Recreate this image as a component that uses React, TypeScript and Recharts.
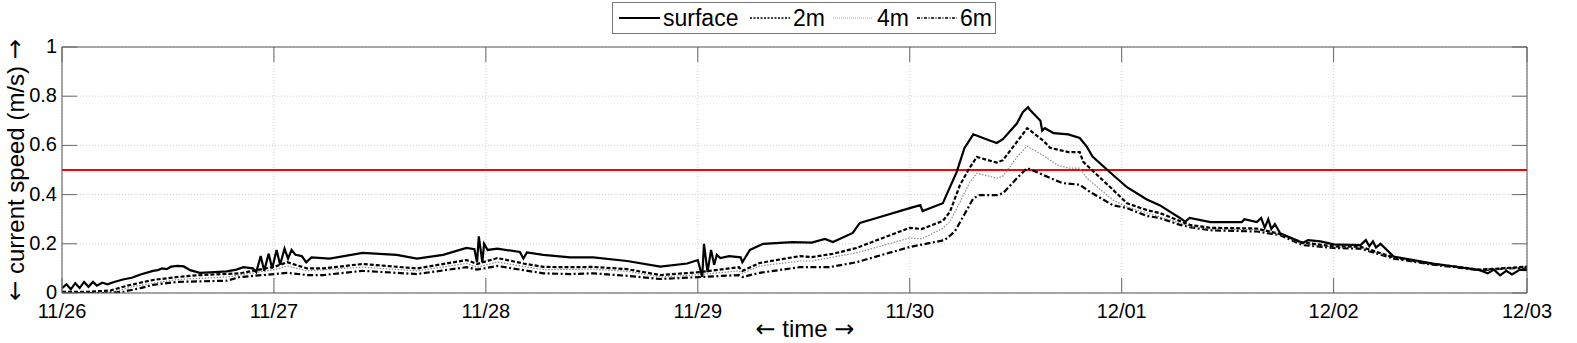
import React from 'react';
import { LineChart, Line, XAxis, YAxis, CartesianGrid, ReferenceLine } from 'recharts';

const xTickHours = [0, 24, 48, 72, 96, 120, 144, 165.9];
const xTickLabels = ['11/26', '11/27', '11/28', '11/29', '11/30', '12/01', '12/02', '12/03'];
const xDomainEnd = 165.9;
const yTicks = [0, 0.2, 0.4, 0.6, 0.8, 1];
const yTickLabels = ['0', '0.2', '0.4', '0.6', '0.8', '1'];
const thresholdSpeed = 0.5;

const surfaceHours = [0, 0.5, 1, 1.5, 2, 2.5, 3, 3.5, 3.95, 4.55, 5.15, 5.9, 6.9, 7.9, 8.9, 10.3, 10.85, 11.35, 11.85, 12.35, 13.05, 13.8, 14.5, 15.6, 17.3, 18.65, 19.75, 20.55, 21.6, 22.0, 22.5, 22.9, 23.4, 23.8, 24.3, 24.7, 25.2, 25.6, 26.0, 26.45, 27.15, 27.65, 28.25, 30.3, 34.05, 37.9, 40.2, 43.15, 45.8, 46.7, 47.0, 47.2, 47.6, 47.8, 48.2, 49.3, 51.85, 52.25, 52.65, 54.5, 57.55, 60.15, 64.0, 67.75, 70.8, 72.0, 72.5, 72.7, 73.1, 73.5, 73.85, 74.15, 74.55, 75.55, 76.85, 77.05, 77.9, 79.4, 82.75, 84.9, 86.4, 87.3, 89.55, 90.35, 92.25, 96.0, 97.2, 97.45, 99.75, 100.25, 101.3, 102.2, 103.2, 105.05, 105.85, 106.55, 108.15, 108.8, 109.4, 109.6, 110.8, 111.0, 111.3, 112.3, 113.95, 115.25, 116.05, 116.7, 118.7, 120.6, 122.85, 124.3, 126.6, 127.2, 127.7, 130.05, 133.6, 133.9, 135.3, 135.8, 136.2, 136.6, 136.95, 137.35, 137.95, 140.5, 141.1, 142.5, 144.0, 147.05, 147.65, 148.05, 148.45, 148.8, 149.3, 150.8, 155.25, 160.55, 161.45, 162.15, 162.85, 163.55, 164.2, 165.1, 165.9];
const surfaceSpeed = [0.02, 0.035, 0.015, 0.04, 0.02, 0.045, 0.025, 0.045, 0.03, 0.042, 0.035, 0.045, 0.055, 0.062, 0.075, 0.09, 0.093, 0.1, 0.097, 0.107, 0.11, 0.108, 0.093, 0.082, 0.085, 0.088, 0.095, 0.105, 0.1, 0.085, 0.15, 0.09, 0.16, 0.1, 0.175, 0.115, 0.18, 0.14, 0.175, 0.155, 0.15, 0.125, 0.145, 0.14, 0.163, 0.155, 0.14, 0.155, 0.183, 0.178, 0.125, 0.23, 0.125, 0.2, 0.175, 0.18, 0.167, 0.14, 0.165, 0.155, 0.145, 0.145, 0.13, 0.107, 0.12, 0.134, 0.065, 0.2, 0.085, 0.175, 0.115, 0.155, 0.142, 0.15, 0.145, 0.125, 0.175, 0.2, 0.207, 0.205, 0.22, 0.207, 0.244, 0.285, 0.305, 0.345, 0.357, 0.333, 0.365, 0.406, 0.49, 0.59, 0.645, 0.62, 0.61, 0.625, 0.69, 0.735, 0.755, 0.745, 0.7, 0.66, 0.67, 0.65, 0.645, 0.63, 0.595, 0.555, 0.49, 0.43, 0.38, 0.357, 0.305, 0.29, 0.305, 0.288, 0.288, 0.3, 0.288, 0.305, 0.265, 0.3, 0.26, 0.28, 0.243, 0.203, 0.215, 0.21, 0.198, 0.195, 0.215, 0.19, 0.21, 0.185, 0.2, 0.148, 0.12, 0.093, 0.08, 0.095, 0.072, 0.09, 0.075, 0.095, 0.093];

const depth2Hours = [0, 2.95, 5.45, 7.4, 10.3, 13.05, 15.3, 20.15, 24.1, 25.5, 27.75, 29.6, 34.05, 40.2, 45.8, 47.0, 49.3, 52.25, 54.5, 57.55, 60.15, 64.0, 67.75, 72.3, 76.65, 77.05, 79.0, 83.55, 84.9, 87.4, 89.95, 96.0, 97.35, 99.75, 100.55, 101.7, 102.8, 103.6, 105.85, 106.55, 108.15, 109.3, 111.1, 111.9, 113.95, 115.25, 115.65, 119.0, 120.6, 122.85, 124.3, 126.6, 127.7, 130.05, 135.3, 137.95, 140.5, 144.0, 147.05, 150.8, 155.25, 160.55, 162.95, 165.9];
const depth2Speed = [0.005, 0.005, 0.01, 0.03, 0.053, 0.065, 0.072, 0.08, 0.107, 0.125, 0.1, 0.1, 0.118, 0.1, 0.134, 0.118, 0.142, 0.12, 0.106, 0.105, 0.106, 0.097, 0.073, 0.085, 0.105, 0.09, 0.122, 0.15, 0.146, 0.16, 0.183, 0.265, 0.26, 0.293, 0.33, 0.44, 0.51, 0.553, 0.53, 0.54, 0.615, 0.67, 0.62, 0.59, 0.573, 0.573, 0.533, 0.42, 0.365, 0.337, 0.325, 0.293, 0.277, 0.265, 0.262, 0.24, 0.205, 0.19, 0.188, 0.145, 0.118, 0.095, 0.1, 0.107];

const depth4Hours = [0, 3.95, 5.9, 7.9, 10.3, 13.05, 18.65, 24.1, 25.5, 27.75, 34.05, 40.2, 45.8, 47.0, 49.3, 52.25, 54.5, 60.15, 64.0, 67.75, 72.3, 76.65, 77.05, 79.0, 83.55, 84.9, 89.95, 96.0, 97.35, 99.75, 100.55, 101.7, 102.8, 103.6, 105.85, 106.55, 108.15, 109.3, 111.1, 112.7, 113.95, 115.25, 116.05, 119.0, 120.6, 122.85, 126.6, 127.7, 130.05, 135.3, 137.95, 140.5, 144.0, 147.05, 150.8, 155.25, 160.55, 162.95, 165.9];
const depth4Speed = [0, 0, 0.005, 0.025, 0.04, 0.055, 0.065, 0.095, 0.11, 0.09, 0.105, 0.09, 0.12, 0.105, 0.126, 0.108, 0.095, 0.097, 0.088, 0.065, 0.075, 0.09, 0.08, 0.11, 0.13, 0.13, 0.163, 0.224, 0.22, 0.263, 0.29, 0.37, 0.45, 0.487, 0.467, 0.475, 0.553, 0.597, 0.56, 0.52, 0.508, 0.508, 0.467, 0.378, 0.35, 0.325, 0.285, 0.27, 0.26, 0.257, 0.238, 0.2, 0.187, 0.185, 0.143, 0.117, 0.095, 0.098, 0.105];

const depth6Hours = [0, 4.95, 6.9, 8.9, 10.3, 13.05, 18.65, 20.15, 24.1, 25.5, 27.75, 29.6, 34.05, 40.2, 45.8, 47.0, 49.3, 52.25, 54.5, 57.55, 60.15, 64.0, 67.75, 72.3, 76.65, 77.05, 79.0, 83.55, 86.9, 89.95, 96.0, 99.95, 101.1, 102.2, 103.2, 103.9, 105.85, 106.55, 108.15, 109.3, 111.1, 113.25, 115.25, 116.45, 119.0, 120.6, 122.85, 124.3, 126.6, 127.7, 130.05, 135.3, 137.95, 140.5, 144.0, 147.05, 150.8, 155.25, 160.55, 162.95, 165.9];
const depth6Speed = [0, 0, 0.005, 0.02, 0.033, 0.045, 0.05, 0.065, 0.077, 0.082, 0.073, 0.073, 0.09, 0.077, 0.105, 0.095, 0.11, 0.093, 0.08, 0.077, 0.08, 0.07, 0.057, 0.065, 0.073, 0.065, 0.082, 0.105, 0.105, 0.125, 0.187, 0.215, 0.25, 0.32, 0.385, 0.398, 0.398, 0.405, 0.467, 0.508, 0.48, 0.447, 0.44, 0.41, 0.357, 0.345, 0.313, 0.305, 0.277, 0.268, 0.255, 0.25, 0.235, 0.195, 0.183, 0.18, 0.14, 0.115, 0.093, 0.098, 0.103];

const toRows = (hours: number[], speeds: number[]) => hours.map((t, i) => ({ t, v: speeds[i] }));

const surfaceData = toRows(surfaceHours, surfaceSpeed);
const depth2Data = toRows(depth2Hours, depth2Speed);
const depth4Data = toRows(depth4Hours, depth4Speed);
const depth6Data = toRows(depth6Hours, depth6Speed);

const FONT = '"Liberation Sans", Arial, Helvetica, sans-serif';
const ARROW_FONT = '"DejaVu Sans", sans-serif';
const TICK_COLOR = '#666';
const TICK_LEN = 15;

const BottomTick = (props: any) => {
  const { x, y, payload } = props;
  const label = xTickLabels[xTickHours.indexOf(payload.value)];
  return (
    <g>
      <line x1={x} x2={x} y1={y} y2={y - TICK_LEN} stroke={TICK_COLOR} strokeWidth={1} />
      <text x={x} y={y + 25} textAnchor="middle" fontSize={20} fill="#000" fontFamily={FONT}>{label}</text>
    </g>
  );
};

const TopTick = (props: any) => {
  const { x, y } = props;
  return <line x1={x} x2={x} y1={y} y2={y + TICK_LEN} stroke={TICK_COLOR} strokeWidth={1} />;
};

const LeftTick = (props: any) => {
  const { x, y, payload } = props;
  const label = yTickLabels[yTicks.indexOf(payload.value)];
  return (
    <g>
      <line x1={x} x2={x + TICK_LEN} y1={y} y2={y} stroke={TICK_COLOR} strokeWidth={1} />
      <text x={x - 5} y={y} dy={6} textAnchor="end" fontSize={20} fill="#000" fontFamily={FONT}>{label}</text>
    </g>
  );
};

const RightTick = (props: any) => {
  const { x, y } = props;
  return <line x1={x} x2={x - TICK_LEN} y1={y} y2={y} stroke={TICK_COLOR} strokeWidth={1} />;
};

export default function App() {
  return (
    <div style={{ position: 'absolute', left: 0, top: 0, width: 1577, height: 343, fontFamily: FONT, background: '#fff' }}>
      <LineChart
        width={1577}
        height={343}
        margin={{ top: 17, right: 20, bottom: 20, left: 22 }}
      >
        <CartesianGrid stroke="#cfcfcf" strokeDasharray="1 2" />
        <XAxis
          xAxisId={0}
          dataKey="t"
          type="number"
          domain={[0, xDomainEnd]}
          ticks={xTickHours}
          allowDataOverflow
          height={30}
          tickSize={0}
          tickMargin={0}
          tickLine={false}
          axisLine={{ stroke: '#555' }}
          tick={<BottomTick />}
          interval={0}
        />
        <XAxis
          xAxisId="top"
          orientation="top"
          dataKey="t"
          type="number"
          domain={[0, xDomainEnd]}
          ticks={xTickHours}
          allowDataOverflow
          height={30}
          tickSize={0}
          tickMargin={0}
          tickLine={false}
          axisLine={{ stroke: '#555' }}
          tick={<TopTick />}
          interval={0}
        />
        <YAxis
          yAxisId={0}
          type="number"
          domain={[0, 1]}
          ticks={yTicks}
          allowDataOverflow
          width={40}
          tickSize={0}
          tickMargin={0}
          tickLine={false}
          axisLine={{ stroke: '#555' }}
          tick={<LeftTick />}
          interval={0}
        />
        <YAxis
          yAxisId="right"
          orientation="right"
          type="number"
          domain={[0, 1]}
          ticks={yTicks}
          allowDataOverflow
          width={30}
          tickSize={0}
          tickMargin={0}
          tickLine={false}
          axisLine={{ stroke: '#555' }}
          tick={<RightTick />}
          interval={0}
        />
        <ReferenceLine y={thresholdSpeed} stroke="#ff0000" strokeWidth={2} ifOverflow="hidden" />
        <Line data={depth6Data} dataKey="v" type="linear" stroke="#000" strokeWidth={2.2} strokeDasharray="6 2.5 2 2.5" dot={false} isAnimationActive={false} name="6m" />
        <Line data={depth4Data} dataKey="v" type="linear" stroke="#8a8a8a" strokeWidth={1.2} strokeDasharray="1.5 1.5" dot={false} isAnimationActive={false} name="4m" />
        <Line data={depth2Data} dataKey="v" type="linear" stroke="#000" strokeWidth={2.2} strokeDasharray="4 2" dot={false} isAnimationActive={false} name="2m" />
        <Line data={surfaceData} dataKey="v" type="linear" stroke="#000" strokeWidth={2.2} dot={false} isAnimationActive={false} name="surface" />
      </LineChart>
      <svg width={1577} height={343} style={{ position: 'absolute', left: 0, top: 0, pointerEvents: 'none' }}>
        <rect x={612.5} y={2.5} width={383} height={31} fill="#fff" stroke="#777" strokeWidth={1} />
        <line x1={619} x2={660} y1={18} y2={18} stroke="#000" strokeWidth={2} />
        <text x={663} y={26} fontSize={23} fontFamily={FONT} fill="#000">surface</text>
        <line x1={750} x2={790} y1={18} y2={18} stroke="#000" strokeWidth={1.6} strokeDasharray="2 1.5" />
        <text x={793} y={26} fontSize={23} fontFamily={FONT} fill="#000">2m</text>
        <line x1={833} x2={872} y1={18} y2={18} stroke="#aaa" strokeWidth={1.2} strokeDasharray="1 1" />
        <text x={877} y={26} fontSize={23} fontFamily={FONT} fill="#000">4m</text>
        <line x1={917} x2={957} y1={18} y2={18} stroke="#000" strokeWidth={1.6} strokeDasharray="3 1.5 1 1.5" />
        <text x={960} y={26} fontSize={23} fontFamily={FONT} fill="#000">6m</text>
        <text x={15} y={170} transform="rotate(-90, 15, 170)" textAnchor="middle" dominantBaseline="central" fontSize={24} fontFamily={FONT} fill="#000">
          <tspan fontFamily={ARROW_FONT}>←</tspan> current speed (m/s) <tspan fontFamily={ARROW_FONT}>→</tspan>
        </text>
        <text x={805} y={337} textAnchor="middle" fontSize={24} fontFamily={FONT} fill="#000">
          <tspan fontFamily={ARROW_FONT}>←</tspan> time <tspan fontFamily={ARROW_FONT}>→</tspan>
        </text>
      </svg>
    </div>
  );
}
